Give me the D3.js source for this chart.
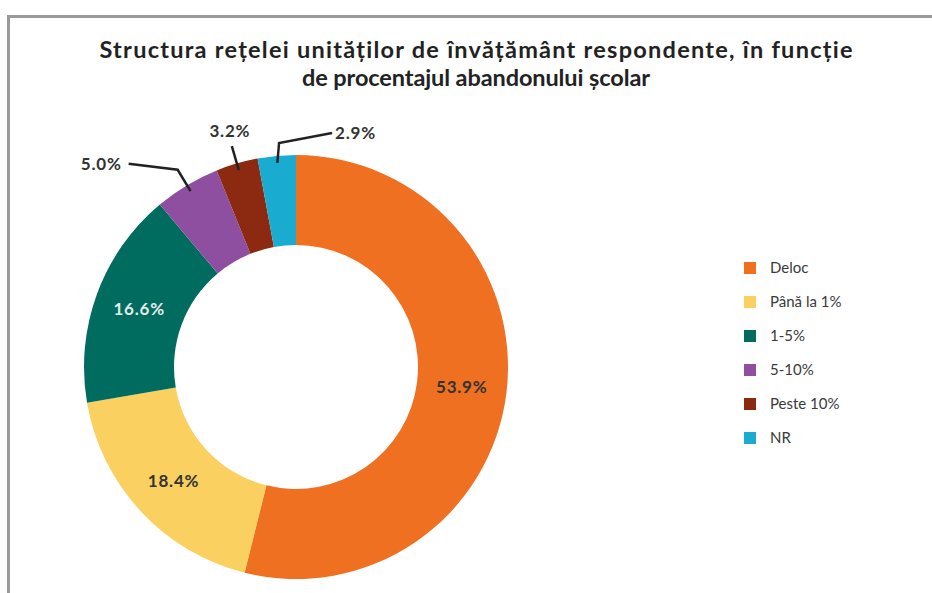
<!DOCTYPE html>
<html>
<head>
<meta charset="utf-8">
<script src="https://cdn.jsdelivr.net/npm/d3@7"></script>
<style>
  body { margin: 0; background: #fff; }
  svg { display: block; }
</style>
</head>
<body>
<svg id="chart"></svg>
<script>
var categories = ["Deloc", "Până la 1%", "1-5%", "5-10%", "Peste 10%", "NR"];
var values = [53.9, 18.4, 16.6, 5.0, 3.2, 2.9];
var colors = ["#F07022", "#FAD060", "#006B5F", "#8E4FA0", "#8B2A10", "#1AACD0"];
var titleLines = ["Structura rețelei unităților de învățământ respondente, în funcție",
                  "de procentajul abandonului școlar"];

var width = 932, height = 593,
    cx = 296, cy = 367,
    outerR = 212, innerR = 122;

var svg = d3.select("#chart").attr("width", width).attr("height", height);

// frame
svg.append("path")
    .attr("d", "M8.5," + height + " V16.5 H" + width)
    .attr("fill", "none").attr("stroke", "#9a9a9a").attr("stroke-width", 3);

var titleWidths = [753, 348];
svg.selectAll(".title").data(titleLines).enter().append("text")
    .attr("class", "title")
    .attr("x", 476).attr("y", function(d, i) { return 58 + i * 28; })
    .attr("text-anchor", "middle")
    .attr("textLength", function(d, i) { return titleWidths[i]; })
    .attr("lengthAdjust", "spacing")
    .style("font-family", "Lato, sans-serif").style("font-weight", 700)
    .style("font-size", "23.5px").style("fill", "#222")
    .text(function(d) { return d; });

var data = categories.map(function(c, i) { return {name: c, value: values[i], color: colors[i]}; });

var pie = d3.pie().sort(null).value(function(d) { return d.value; });
var arc = d3.arc().outerRadius(outerR).innerRadius(innerR);
var labelArc = d3.arc().outerRadius(167).innerRadius(167);
var tipArc = d3.arc().outerRadius(205).innerRadius(205);
var elbowArc = d3.arc().outerRadius(230).innerRadius(230);

var g = svg.append("g").attr("transform", "translate(" + cx + "," + cy + ")");
var arcs = pie(data);

g.selectAll(".slice").data(arcs).enter().append("path")
    .attr("class", "slice")
    .attr("d", arc)
    .style("fill", function(d) { return d.data.color; });

var fmt = function(v) { return v.toFixed(1) + "%"; };

function labelStyle(sel) {
    sel.style("font-family", "Lato, sans-serif").style("font-weight", 700)
       .style("font-size", "17px").style("letter-spacing", "0.8px");
}

// labels inside the ring
g.selectAll(".in-label").data(arcs.filter(function(d) { return d.data.value > 10; })).enter().append("text")
    .attr("class", "in-label")
    .attr("transform", function(d) { return "translate(" + labelArc.centroid(d) + ")"; })
    .attr("dy", "0.35em").attr("text-anchor", "middle")
    .call(labelStyle)
    .style("fill", function(d) { return d.index === 2 ? "#e4ecea" : "#333"; })
    .text(function(d) { return fmt(d.data.value); });

// small slices get leader lines
var small = arcs.filter(function(d) { return d.data.value <= 10; });
var dirs = ["left", "up", "right"];

small.forEach(function(d, i) {
    var p0 = tipArc.centroid(d), p1 = elbowArc.centroid(d), pts, tx, ty, anchor;
    if (dirs[i] === "left") {
        pts = [p0, p1, [p1[0] - 49, p1[1] - 6]];
        tx = p1[0] - 56; ty = p1[1] - 6; anchor = "end";
    } else if (dirs[i] === "right") {
        p1 = [p1[0] + 4, p1[1] + 5];
        pts = [p0, p1, [p1[0] + 53, p1[1] - 10]];
        tx = p1[0] + 56; ty = p1[1] - 10; anchor = "start";
    } else {
        pts = [p0, p1];
        tx = p1[0] - 2; ty = p1[1] - 15; anchor = "middle";
    }
    g.append("polyline")
        .attr("points", pts.map(function(p) { return p.join(","); }).join(" "))
        .attr("fill", "none").attr("stroke", "#222").attr("stroke-width", 2.5);
    g.append("text")
        .attr("x", tx).attr("y", ty).attr("dy", "0.35em").attr("text-anchor", anchor)
        .call(labelStyle)
        .style("fill", "#333")
        .text(fmt(d.data.value));
});

// legend
var legend = svg.append("g").attr("transform", "translate(744,268)");
var row = legend.selectAll(".row").data(data).enter().append("g")
    .attr("class", "row")
    .attr("transform", function(d, i) { return "translate(0," + i * 34 + ")"; });
row.append("rect").attr("x", 0).attr("y", -6).attr("width", 12).attr("height", 12)
    .style("fill", function(d) { return d.color; });
row.append("text").attr("x", 26).attr("dy", "0.35em")
    .style("font-family", "Lato, sans-serif").style("font-size", "15px").style("fill", "#3a3a3a")
    .text(function(d) { return d.name; });
</script>
</body>
</html>
